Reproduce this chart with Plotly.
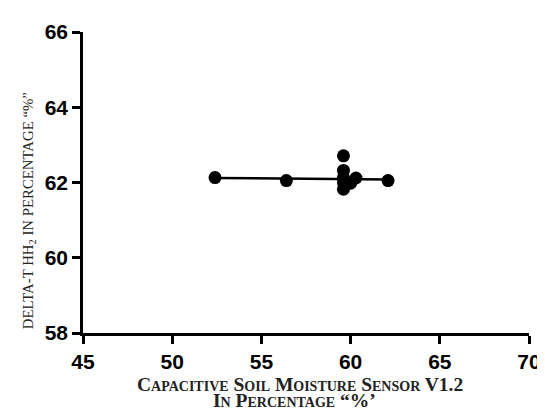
import plotly.graph_objects as go

# data
sensor_x = [52.4, 56.4, 59.6, 59.6, 59.6, 59.6, 59.6, 60.0, 60.3, 62.1]
deltat_y = [62.13, 62.05, 62.71, 62.32, 62.13, 62.0, 61.82, 61.98, 62.12, 62.05]
fit_x = [52.4, 62.1]
fit_y = [62.12, 62.08]

x_ticks = [45, 50, 55, 60, 65, 70]
y_ticks = [58, 60, 62, 64, 66]

x_title_1 = "Capacitive Soil Moisture Sensor V1.2"
x_title_2 = "In Percentage “%’"
y_title = "DELTA-T HH<sub>2</sub> IN PERCENTAGE “%”"

fig = go.Figure()
fig.add_trace(go.Scatter(x=fit_x, y=fit_y, mode="lines",
                         line=dict(color="black", width=2.5), showlegend=False))
fig.add_trace(go.Scatter(x=sensor_x, y=deltat_y, mode="markers",
                         marker=dict(color="black", size=13), showlegend=False))

tickfont = dict(family="Liberation Sans", size=21, color="black", weight="bold")
axis_common = dict(showgrid=False, zeroline=False, showline=True, linecolor="black",
                   linewidth=2.5, ticks="outside", ticklen=8, tickwidth=2.5,
                   tickcolor="black", tickfont=tickfont)
fig.update_layout(
    width=545, height=414,
    margin=dict(l=75, r=15, t=21, b=89),
    plot_bgcolor="white", paper_bgcolor="white",
    xaxis=dict(range=[45, 70], tickvals=x_ticks, **axis_common),
    yaxis=dict(range=[58, 66], tickvals=y_ticks, **axis_common),
)

sc_font = dict(family="Liberation Serif", size=19.5, color="#222", variant="small-caps",
               weight="bold")
fig.add_annotation(text=x_title_1, xref="paper", yref="paper", x=0.4857, y=-0.172,
                   xanchor="center", yanchor="middle", showarrow=False, font=sc_font)
fig.add_annotation(text=x_title_2, xref="paper", yref="paper", x=0.4747, y=-0.225,
                   xanchor="center", yanchor="middle", showarrow=False, font=sc_font)
fig.add_annotation(text=y_title, xref="paper", yref="paper", x=-0.1209, y=0.405,
                   xanchor="center", yanchor="middle", showarrow=False, textangle=-90,
                   font=dict(family="Liberation Serif", size=14.8, color="#222"))
fig.write_html("out.html")
